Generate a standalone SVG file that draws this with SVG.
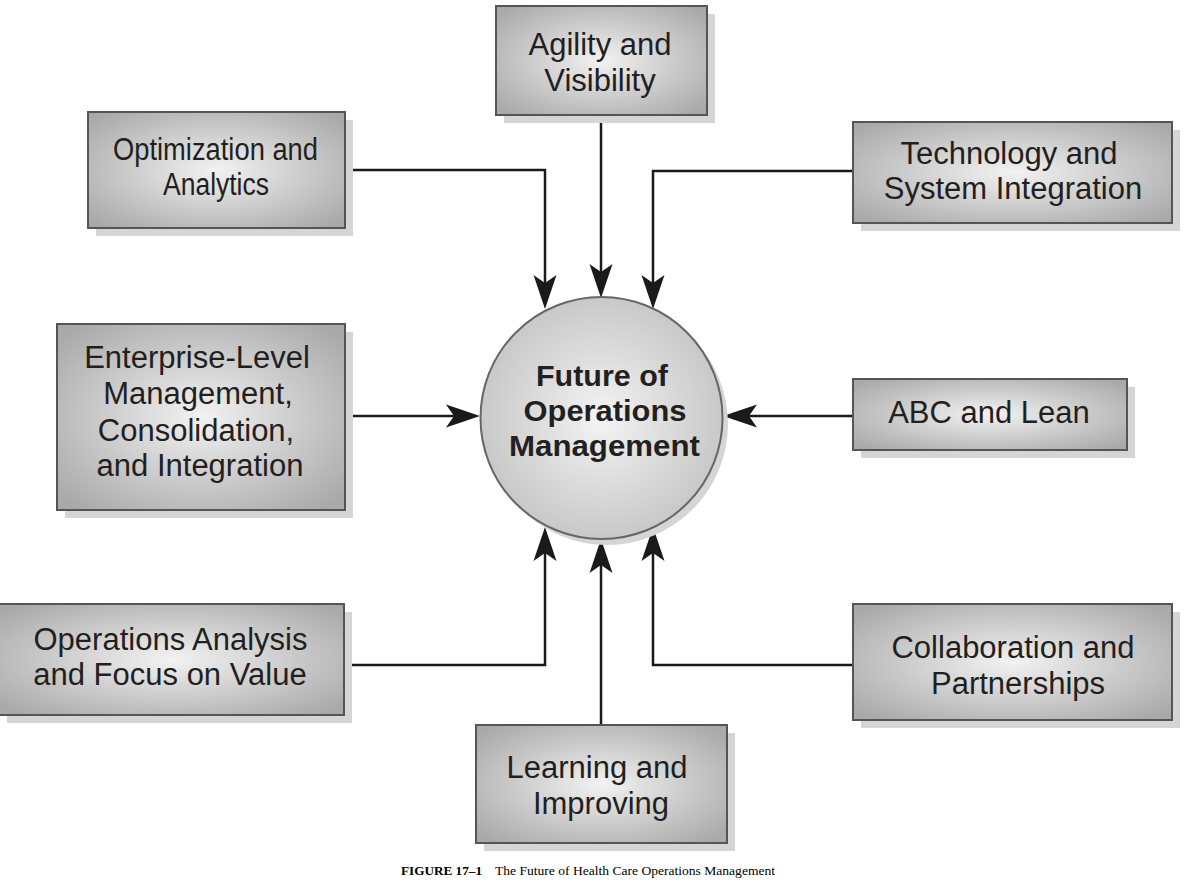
<svg xmlns="http://www.w3.org/2000/svg" width="1194" height="891" viewBox="0 0 1194 891">
<defs>
<radialGradient id="boxg" cx="0.5" cy="0.5" r="0.65">
<stop offset="0" stop-color="#f2f2f2"/>
<stop offset="1" stop-color="#a9a9a9"/>
</radialGradient>
<radialGradient id="circg" cx="0.5" cy="0.5" r="0.55">
<stop offset="0" stop-color="#f4f4f4"/>
<stop offset="1" stop-color="#c4c4c4"/>
</radialGradient>
<marker id="arr" markerUnits="userSpaceOnUse" markerWidth="48" markerHeight="30" viewBox="-28 -15 48 30" refX="0" refY="0" orient="auto" overflow="visible">
<path d="M10,0 L-24,-11.5 L-16,0 L-24,11.5 Z" fill="#1a1a1a"/>
</marker>
<style>
.shadow{fill:#d5d5d5}
.box{fill:url(#boxg);stroke:#555;stroke-width:2}
.t{font-family:"Liberation Sans",Arial,sans-serif;font-size:31px;fill:#231f20;text-anchor:middle}
.tb{font-family:"Liberation Sans",Arial,sans-serif;font-size:29px;font-weight:bold;fill:#231f20;text-anchor:middle}
.con{fill:none;stroke:#1a1a1a;stroke-width:2.5;marker-end:url(#arr)}
.cap{font-family:"Liberation Serif","Times New Roman",serif;font-size:13px;fill:#000}
</style>
</defs>
<rect width="1194" height="891" fill="#fff"/>

<g id="connectors">
<path class="con" d="M601,116 V288"/>
<path class="con" d="M345,170 H545 V299"/>
<path class="con" d="M852,171 H653 V299"/>
<path class="con" d="M345,416 H470"/>
<path class="con" d="M852,416 H733"/>
<path class="con" d="M345,665 H545 V537"/>
<path class="con" d="M852,665 H653 V537"/>
<path class="con" d="M601,724 V549"/>
</g>

<g id="center">
<circle cx="607" cy="424" r="121" class="shadow"/>
<circle cx="601.5" cy="418" r="121" fill="url(#circg)" stroke="#666" stroke-width="2"/>
<text class="tb" x="602" y="386" textLength="132" lengthAdjust="spacingAndGlyphs">Future of</text>
<text class="tb" x="605" y="421" textLength="163" lengthAdjust="spacingAndGlyphs">Operations</text>
<text class="tb" x="604.5" y="456" textLength="191" lengthAdjust="spacingAndGlyphs">Management</text>
</g>

<g id="agility">
<rect class="shadow" x="504" y="14" width="211" height="109"/>
<rect class="box" x="496" y="6" width="211" height="109"/>
<text class="t" x="600" y="55">Agility and</text>
<text class="t" x="600" y="91">Visibility</text>
</g>

<g id="optimization">
<rect class="shadow" x="96" y="120" width="257" height="116"/>
<rect class="box" x="88" y="112" width="257" height="116"/>
<text class="t" x="215.5" y="160" textLength="205" lengthAdjust="spacingAndGlyphs">Optimization and</text>
<text class="t" x="216" y="195" textLength="106" lengthAdjust="spacingAndGlyphs">Analytics</text>
</g>

<g id="technology">
<rect class="shadow" x="861" y="130" width="319" height="101"/>
<rect class="box" x="853" y="122" width="319" height="101"/>
<text class="t" x="1009" y="164">Technology and</text>
<text class="t" x="1013" y="199">System Integration</text>
</g>

<g id="enterprise">
<rect class="shadow" x="65" y="332" width="288" height="186"/>
<rect class="box" x="57" y="324" width="288" height="186"/>
<text class="t" x="197" y="368">Enterprise-Level</text>
<text class="t" x="198" y="404">Management,</text>
<text class="t" x="196" y="441">Consolidation,</text>
<text class="t" x="200" y="476">and Integration</text>
</g>

<g id="abc">
<rect class="shadow" x="861" y="387" width="274" height="71"/>
<rect class="box" x="853" y="379" width="274" height="71"/>
<text class="t" x="989" y="423">ABC and Lean</text>
</g>

<g id="operations">
<rect class="shadow" x="7" y="612" width="345" height="111"/>
<rect class="box" x="-1" y="604" width="345" height="111"/>
<text class="t" x="170.5" y="650">Operations Analysis</text>
<text class="t" x="170" y="685">and Focus on Value</text>
</g>

<g id="collaboration">
<rect class="shadow" x="861" y="612" width="319" height="116"/>
<rect class="box" x="853" y="604" width="319" height="116"/>
<text class="t" x="1013" y="658">Collaboration and</text>
<text class="t" x="1018" y="694">Partnerships</text>
</g>

<g id="learning">
<rect class="shadow" x="484" y="733" width="251" height="118"/>
<rect class="box" x="476" y="725" width="251" height="118"/>
<text class="t" x="597" y="778">Learning and</text>
<text class="t" x="601" y="814">Improving</text>
</g>

<text class="cap" y="875"><tspan x="401" font-weight="bold" textLength="81" lengthAdjust="spacingAndGlyphs">FIGURE 17–1</tspan><tspan x="495" textLength="280" lengthAdjust="spacingAndGlyphs">The Future of Health Care Operations Management</tspan></text>
</svg>
